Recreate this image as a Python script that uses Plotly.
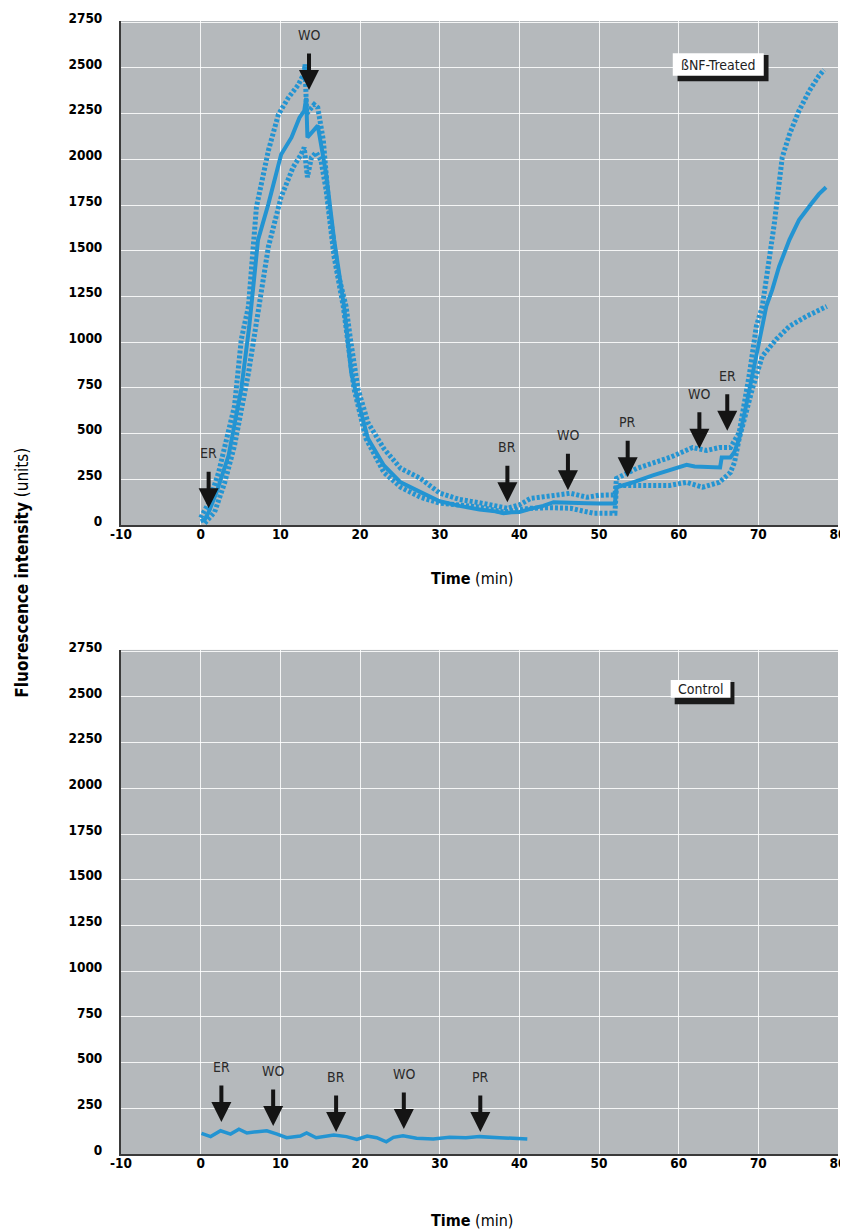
import plotly.graph_objects as go

# ---------------- data ----------------
mean_t = [0, 0.5, 1.0, 2.0, 3.5, 5.1, 6.1, 7.2, 8.5, 10.1, 11.4, 12.4, 13.0, 13.25, 13.4, 14.1, 14.7,
          15.75, 16.75, 18.0, 18.9, 19.9, 21.0, 23.0, 25.1, 27.6, 30, 32.5, 35, 37, 38, 39, 40, 41.5,
          43, 44.3, 46, 48.5, 50, 52.0, 52.2, 54, 56.75, 59, 61, 62, 63.5, 65.2, 65.4, 66.5, 67.0,
          67.6, 68.9, 70.1, 71.0, 71.75, 72.6, 73.9, 75.1, 76.6, 77.6, 78.5]
mean_v = [20, 30, 70, 180, 380, 745, 1087, 1560, 1756, 2027, 2120, 2228, 2266, 2337, 2120, 2158, 2185,
          1920, 1560, 1196, 832, 652, 473, 326, 234, 180, 130, 105, 85, 75, 65, 70, 72, 90,
          105, 125, 125, 120, 118, 118, 207, 230, 272, 300, 330, 320, 320, 315, 370, 370, 400,
          472, 745, 1016, 1196, 1288, 1413, 1560, 1668, 1755, 1810, 1848]

upper_t = [0, 1.0, 2.25, 4.25, 5.1, 6.0, 7.0, 8.5, 9.75, 11.0, 12.25, 13.0, 13.1, 13.3, 14.25, 14.7,
           15.4, 16.1, 17.25, 18.25, 18.8, 19.75, 21.0, 23.0, 25.1, 27.6, 30, 32.5, 35, 37, 38.5,
           40, 41.4, 44, 46.4, 48.5, 50, 52.0, 52.2, 54.75, 57, 58.9, 61.75, 63.5, 65.1, 66.5,
           67.6, 68.9, 69.75, 70.5, 71.1, 72.0, 73.0, 73.9, 75.1, 76.4, 77.6, 78.25]
upper_v = [40, 120, 288, 652, 1016, 1196, 1739, 2048, 2245, 2337, 2408, 2473, 2520, 2250, 2300, 2283,
           2103, 1739, 1375, 1196, 1016, 745, 560, 418, 310, 255, 175, 140, 122, 105, 92,
           110, 146, 160, 174, 152, 163, 165, 255, 310, 345, 370, 424, 408, 424, 424,
           506, 832, 1087, 1196, 1375, 1647, 2011, 2136, 2266, 2375, 2457, 2490]

lower_t = [0.5, 1.75, 3.0, 4.25, 6.0, 7.4, 8.5, 10.1, 11.6, 12.6, 13.0, 13.4, 13.9, 14.5, 15.1, 15.75,
           16.75, 17.9, 18.5, 19.25, 20.75, 23.0, 25.1, 27.6, 30, 32, 35, 38, 40, 41.4, 44, 46.4,
           49.25, 52.0, 52.2, 54.75, 58.9, 61, 63, 65.1, 66.5, 67.0, 67.6, 69.25, 70.5, 72.25,
           73.9, 76, 78.6]
lower_v = [10, 71, 230, 435, 832, 1196, 1522, 1794, 1957, 2027, 2065, 1902, 2011, 2038, 1995, 1832,
           1467, 1196, 1016, 745, 473, 288, 207, 152, 120, 109, 98, 71, 80, 92, 95, 92,
           65, 65, 217, 217, 217, 234, 207, 234, 288, 342, 473, 745, 924, 1016,
           1087, 1141, 1196]

ctrl_t = [0.1, 1.25, 2.5, 3.75, 4.8, 5.8, 7.1, 8.3, 9.6, 10.8, 12.5, 13.3, 14.5, 16.7, 18.3, 19.6,
          20.9, 22.1, 23.3, 24.2, 25.4, 27.1, 29.2, 31.25, 33.3, 35, 37.5, 39.6, 41]
ctrl_v = [113, 95, 127, 109, 136, 115, 122, 127, 109, 89, 98, 115, 89, 104, 95, 80,
          98, 89, 67, 91, 100, 86, 82, 91, 89, 95, 89, 82, 82]

top_evt_labels = ["ER", "WO", "BR", "WO", "PR", "WO", "ER"]
top_evt_t = [1.0, 13.6, 38.5, 46.1, 53.6, 62.6, 66.1]
top_evt_tip = [92, 2380, 125, 190, 261, 418, 516]

bot_evt_labels = ["ER", "WO", "BR", "WO", "PR"]
bot_evt_t = [2.6, 9.1, 17.0, 25.5, 35.1]
bot_evt_tip = [175, 153, 120, 137, 120]

x_ticks = [-10, 0, 10, 20, 30, 40, 50, 60, 70, 80]
x_ticktext = ["-10", "0", "10", "20", "30", "40", "50", "60", "70", "80"]
y_ticks = [0, 250, 500, 750, 1000, 1250, 1500, 1750, 2000, 2250, 2500, 2750]

top_label = "ßNF-Treated"
bot_label = "Control"

# ---------------- styling ----------------
FONT = "DejaVu Sans Condensed, Liberation Sans Narrow, Arial Narrow, sans-serif"
BLUE = "#2394d2"
BG = "#b5b9bc"

# the page body has an 8px margin, so the figure starts at (8, 8) in the window
OFF = 8
W, H = 840, 1224
ML, MR, MT = 113, 10, 2
PH = 1144
MB = H - MT - PH
PW = W - ML - MR

fig = go.Figure()

fig.add_trace(go.Scatter(x=upper_t, y=upper_v, mode="lines", xaxis="x", yaxis="y",
                         line=dict(color=BLUE, width=5, dash="3px,2px"), showlegend=False))
fig.add_trace(go.Scatter(x=lower_t, y=lower_v, mode="lines", xaxis="x", yaxis="y",
                         line=dict(color=BLUE, width=5, dash="3px,2px"), showlegend=False))
fig.add_trace(go.Scatter(x=mean_t, y=mean_v, mode="lines", xaxis="x", yaxis="y",
                         line=dict(color=BLUE, width=4), showlegend=False))
fig.add_trace(go.Scatter(x=ctrl_t, y=ctrl_v, mode="lines", xaxis="x2", yaxis="y2",
                         line=dict(color=BLUE, width=3.5), showlegend=False))

tickfont = dict(family=FONT, size=13.5, color="#000000", weight="bold")
axis_common = dict(
    range=[-10, 80], tickvals=x_ticks, ticktext=x_ticktext, showgrid=True,
    gridcolor="rgba(255,255,255,0.85)", gridwidth=1, zeroline=False, showline=True,
    linecolor="#3a3a3a", linewidth=2, ticks="", tickfont=tickfont, ticklabelstandoff=-4,
)
yaxis_common = dict(
    range=[0, 2757], tickvals=y_ticks, showgrid=True, gridcolor="rgba(255,255,255,0.85)",
    gridwidth=1, zeroline=False, showline=True, linecolor="#3a3a3a", linewidth=2,
    ticks="", tickfont=tickfont, ticklabelstandoff=14, ticklabelshift=-4,
)

fig.update_layout(
    width=W, height=H,
    margin=dict(l=ML, r=MR, t=MT, b=MB),
    paper_bgcolor="white",
    plot_bgcolor=BG,
    xaxis=dict(domain=[0, 1], anchor="y", **axis_common),
    yaxis=dict(domain=[0.5551, 1], anchor="x", **yaxis_common),
    xaxis2=dict(domain=[0, 1], anchor="y2", **axis_common),
    yaxis2=dict(domain=[0, 0.4449], anchor="x2", **yaxis_common),
)

annotations = []
shapes = []


def add_events(labels, ts, tips, xref, yref):
    for lab, t, tip in zip(labels, ts, tips):
        annotations.append(dict(
            x=t, y=tip, xref=xref, yref=yref, text="", showarrow=True,
            ax=0, ay=-38, arrowhead=2, arrowsize=1.0, arrowwidth=4, arrowcolor="#141414",
        ))
        annotations.append(dict(
            x=t, y=tip, xref=xref, yref=yref, text=lab, showarrow=False, yshift=55,
            font=dict(family=FONT, size=14, color="#2a2a2a"),
        ))


add_events(top_evt_labels, top_evt_t, top_evt_tip, "x", "y")
add_events(bot_evt_labels, bot_evt_t, bot_evt_tip, "x2", "y2")


def add_box(text, x0, x1, y0, y1, xref, yref, dx, dy0, dy1):
    shapes.append(dict(type="rect", xref=xref, yref=yref, x0=x0 + dx, x1=x1 + dx, y0=y0 - dy1,
                       y1=y1 - dy0, fillcolor="#1a1a1a", line=dict(width=0), layer="above"))
    shapes.append(dict(type="rect", xref=xref, yref=yref, x0=x0, x1=x1, y0=y0, y1=y1,
                       fillcolor="white", line=dict(width=0), layer="above"))
    annotations.append(dict(x=(x0 + x1) / 2, y=(y0 + y1) / 2, xref=xref, yref=yref, text=text,
                            showarrow=False, font=dict(family=FONT, size=14, color="#222222")))


add_box(top_label, 59.26, 70.68, 2457, 2581, "x", "y", 0.6, 10, 30)
add_box(bot_label, 59.0, 66.5, 2495, 2592, "x2", "y2", 0.5, 10, 35)


# texts placed by window pixel position (converted into paper coordinates)
def px_to_paper(xw, yw):
    xf, yf = xw - OFF, yw - OFF
    return (xf - ML) / PW, (H - MB - yf) / PH


for ypx in (573, 1221):
    px, py = px_to_paper(472, ypx)
    annotations.append(dict(
        x=px, y=py, xref="paper", yref="paper", xanchor="center", yanchor="middle",
        text="<b>Time</b> (min)", showarrow=False, font=dict(family=FONT, size=16, color="#000000"),
    ))
px, py = px_to_paper(22, 567)
annotations.append(dict(
    x=px, y=py, xref="paper", yref="paper", xanchor="center", yanchor="middle", textangle=-90,
    text="<b>Fluorescence intensity</b> (units)", showarrow=False,
    font=dict(family=FONT, size=17, color="#000000"),
))

fig.update_layout(annotations=annotations, shapes=shapes)
fig.write_html("out.html", config={"displayModeBar": False})
